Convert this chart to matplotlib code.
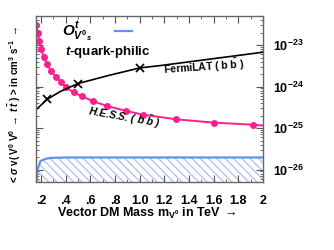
import matplotlib
matplotlib.use('Agg')
import matplotlib.pyplot as plt
from matplotlib.ticker import FixedLocator, MultipleLocator, NullFormatter

plt.rcParams['font.family'] = ['Liberation Sans', 'DejaVu Sans']
plt.rcParams['font.weight'] = 'bold'
plt.rcParams['mathtext.fontset'] = 'custom'
plt.rcParams['mathtext.rm'] = 'Liberation Sans:bold'
plt.rcParams['mathtext.it'] = 'Liberation Sans:italic:bold'
plt.rcParams['mathtext.bf'] = 'Liberation Sans:bold'
plt.rcParams['hatch.color'] = '#9dbcf0'
plt.rcParams['hatch.linewidth'] = 0.8

# H.E.S.S. (b bbar) limit
hess_m = [0.162, 0.172, 0.186, 0.202, 0.221, 0.249, 0.284, 0.324, 0.365, 0.405,
          0.464, 0.533, 0.624, 0.734, 0.888, 1.024, 1.297, 1.6, 1.92]
hess_sv = [2.96e-23, 1.94e-23, 1.25e-23, 8.2e-24, 5.1e-24, 3.4e-24, 2.3e-24, 1.66e-24,
           1.26e-24, 9.5e-25, 7.2e-25, 5.8e-25, 4.4e-25, 3.4e-25, 2.6e-25, 2.1e-25,
           1.62e-25, 1.35e-25, 1.2e-25]
hess_end_m = [1.92, 2.0]
hess_end_sv = [1.2e-25, 1.15e-25]

# FermiLAT (b bbar) limit
fermi_m = [0.162, 0.25, 0.357, 0.5, 0.75, 1.0, 1.17, 2.0]
fermi_sv = [2.8e-25, 4.9e-25, 7.6e-25, 1.18e-24, 1.85e-24, 2.8e-24, 3.2e-24, 6.7e-24]
fermi_mark_m = [0.25, 0.5, 1.0]
fermi_mark_sv = [4.9e-25, 1.18e-24, 2.8e-24]

# O^t_{V0_s} t-quark-philic region
model_m = [0.162, 0.172, 0.195, 0.235, 0.275, 0.4, 1.0, 2.0]
model_sv = [5e-27, 1.0e-26, 1.6e-26, 1.8e-26, 1.9e-26, 1.95e-26, 1.95e-26, 1.95e-26]

xticks = [0.2, 0.4, 0.6, 0.8, 1.0, 1.2, 1.4, 1.6, 1.8, 2.0]
xticklabels = ['.2', '.4', '.6', '.8', '1.0', '1.2', '1.4', '1.6', '1.8', '2']
yticks = [1e-26, 1e-25, 1e-24, 1e-23]
yticklabels = [r'$10^{-26}$', r'$10^{-25}$', r'$10^{-24}$', r'$10^{-23}$']
yminor = [k * 10.0 ** e for e in range(-27, -22) for k in range(2, 10)
          if 5e-27 <= k * 10.0 ** e <= 5e-23]

pink = '#ff1f8f'
blue = '#5f92e8'

fig = plt.figure(figsize=(3.34, 2.5), dpi=100)
ax = fig.add_axes([0.108, 0.272, 0.679, 0.664])

ax.fill_between(model_m, 5e-27, model_sv, facecolor='none', edgecolor='#9dbcf0',
                hatch='\\\\\\\\', linewidth=0)
ax.plot(model_m, model_sv, color=blue, lw=1.6)

ax.plot(hess_m, hess_sv, color=pink, lw=1.4, marker='o', ms=4, mec=pink, mfc=pink)
ax.plot(hess_end_m, hess_end_sv, color=pink, lw=1.4)

ax.plot(fermi_m, fermi_sv, color='black', lw=1.2)
ax.plot(fermi_mark_m, fermi_mark_sv, ls='none', marker='x', ms=6, mew=1.2, color='black')

ax.set_yscale('log')
ax.set_xlim(0.16, 2.0)
ax.set_ylim(5e-27, 5e-23)

ax.xaxis.set_major_locator(FixedLocator(xticks))
ax.set_xticklabels(xticklabels)
ax.xaxis.set_minor_locator(MultipleLocator(0.1))
ax.yaxis.set_major_locator(FixedLocator(yticks))
ax.set_yticklabels(yticklabels)
ax.yaxis.set_minor_locator(FixedLocator(yminor))
ax.yaxis.set_minor_formatter(NullFormatter())

ax.tick_params(which='both', direction='in', colors='#555555', labelcolor='black',
               top=True, right=True, labelleft=False, labelright=True, labelsize=9)
ax.tick_params(which='major', length=5, width=0.8)
ax.tick_params(which='minor', length=2.5, width=0.6)
ax.tick_params(axis='y', pad=7)
ax.tick_params(axis='x', pad=9)
for s in ax.spines.values():
    s.set_color('#666666')
    s.set_linewidth(1.0)

ax.text(0.115, 0.905, r'$O^{t}_{V^{0}{}_{s}}$', transform=ax.transAxes,
        fontsize=11, va='center', ha='left')
ax.plot([0.348, 0.423], [0.91, 0.91], transform=ax.transAxes, color=blue, lw=1.6)
ax.text(0.128, 0.783, r'$t$-quark-philic', transform=ax.transAxes,
        fontsize=9.5, va='center', ha='left')
ax.text(0.56, 0.69, r'FermiLAT ( b $\bar{\mathrm{b}}$ )', transform=ax.transAxes,
        fontsize=7.5, va='center', ha='left', rotation=4)
ax.text(0.39, 0.39, r'H.E.S.S. ( $b\ \bar{b}$ )', transform=ax.transAxes,
        fontsize=7.5, va='center', ha='center', rotation=-10, style='italic')

fig.text(0.44, 0.145, r'Vector DM Mass m$_{\mathrm{V}^{0}}$ in TeV $\rightarrow$',
         fontsize=9, ha='center', va='center')
fig.text(0.045, 0.58,
         r'< $\sigma$ v( V$^{0}$ V$^{0}$ $\rightarrow$ $t\,\bar{t}$ ) > in cm$^{3}$ s$^{-1}$ $\rightarrow$',
         fontsize=7, ha='center', va='center', rotation=90)

fig.savefig('out.png', dpi=100)
